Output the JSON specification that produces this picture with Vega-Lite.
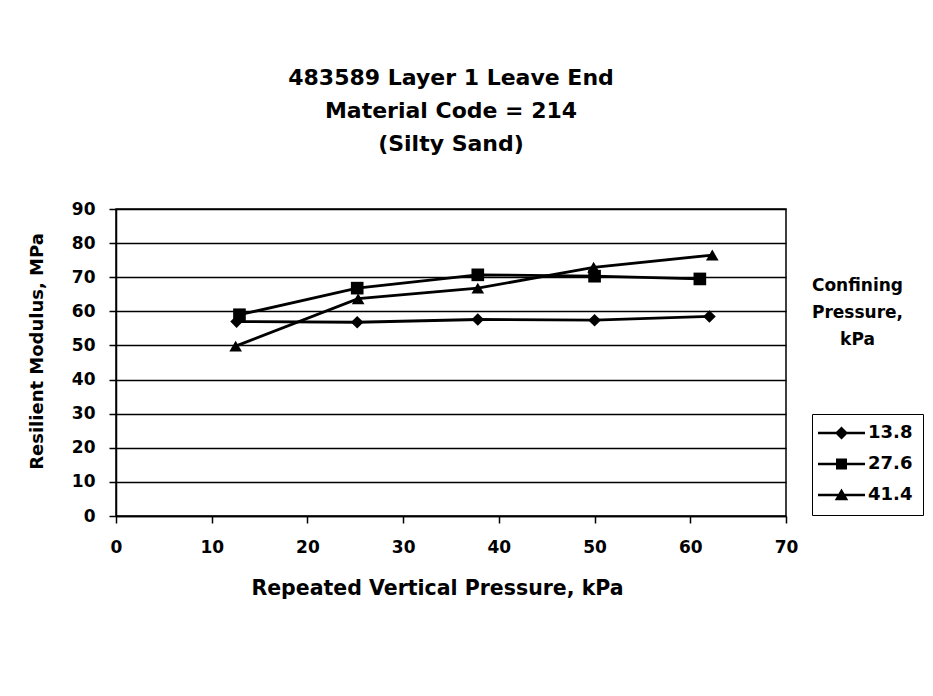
{
  "$schema": "https://vega.github.io/schema/vega-lite/v6.json",
  "width": 670,
  "height": 307,
  "autosize": "none",
  "padding": {"left": 116, "top": 209, "right": 147, "bottom": 180},
  "background": "white",
  "title": {
    "text": ["483589 Layer 1 Leave End", "Material Code = 214", "(Silty Sand)"],
    "font": "DejaVu Sans",
    "fontSize": 22,
    "fontWeight": "bold",
    "color": "black",
    "lineHeight": 33,
    "offset": 44,
    "anchor": "middle"
  },
  "data": {
    "values": [
      {"cp": "13.8", "p": 12.6, "mr": 57.0},
      {"cp": "13.8", "p": 25.2, "mr": 56.8},
      {"cp": "13.8", "p": 37.8, "mr": 57.6},
      {"cp": "13.8", "p": 50.0, "mr": 57.4},
      {"cp": "13.8", "p": 62.0, "mr": 58.5},
      {"cp": "27.6", "p": 12.9, "mr": 59.0},
      {"cp": "27.6", "p": 25.2, "mr": 66.8},
      {"cp": "27.6", "p": 37.8, "mr": 70.7},
      {"cp": "27.6", "p": 50.0, "mr": 70.3},
      {"cp": "27.6", "p": 61.0, "mr": 69.5},
      {"cp": "41.4", "p": 12.5, "mr": 49.8},
      {"cp": "41.4", "p": 25.3, "mr": 63.7},
      {"cp": "41.4", "p": 37.8, "mr": 66.8},
      {"cp": "41.4", "p": 49.9, "mr": 72.9},
      {"cp": "41.4", "p": 62.3, "mr": 76.5}
    ]
  },
  "layer": [
    {
      "mark": {"type": "line", "color": "black", "strokeWidth": 2.8},
      "encoding": {
        "x": {
          "field": "p", "type": "quantitative",
          "scale": {"domain": [0, 70], "nice": false},
          "axis": {
            "values": [0, 10, 20, 30, 40, 50, 60, 70],
            "title": "Repeated Vertical Pressure, kPa",
            "titleFontSize": 20.5,
            "titlePadding": 23,
            "titleX": 321,
            "labelFontSize": 17,
            "labelPadding": 16,
            "tickSize": 7,
            "tickWidth": 1.5,
            "domainWidth": 1.5,
            "grid": false,
            "labelFlush": false,
            "labelOverlap": false
          }
        },
        "y": {
          "field": "mr", "type": "quantitative",
          "scale": {"domain": [0, 90], "nice": false},
          "axis": {
            "values": [0, 10, 20, 30, 40, 50, 60, 70, 80, 90],
            "title": "Resilient Modulus, MPa",
            "titleFontSize": 18,
            "titlePadding": 25,
            "titleY": 142,
            "labelFontSize": 17,
            "labelPadding": 14,
            "tickSize": 7,
            "tickWidth": 1.5,
            "domainWidth": 1.5,
            "grid": true,
            "gridWidth": 1.5,
            "labelFlush": false,
            "labelOverlap": false
          }
        },
        "detail": {"field": "cp", "type": "nominal"}
      }
    },
    {
      "mark": {"type": "point", "filled": true, "color": "black", "size": 160, "opacity": 1},
      "encoding": {
        "x": {"field": "p", "type": "quantitative"},
        "y": {
          "field": "mr", "type": "quantitative",
          "axis": {
            "orient": "right",
            "title": ["Confining", "Pressure,", "kPa"],
            "titleAngle": 0,
            "titleAlign": "center",
            "titleBaseline": "top",
            "titleFontSize": 17,
            "titleLineHeight": 27,
            "titleX": 71,
            "titleY": 68,
            "domain": false,
            "ticks": false,
            "labels": false,
            "grid": false
          }
        },
        "shape": {
          "field": "cp", "type": "nominal",
          "scale": {"domain": ["13.8", "27.6", "41.4"], "range": ["diamond", "square", "triangle-up"]},
          "legend": null
        }
      }
    },
    {
      "mark": {"type": "point", "filled": true, "color": "black", "size": 100, "opacity": 0},
      "encoding": {
        "x": {"field": "p", "type": "quantitative"},
        "y": {"field": "mr", "type": "quantitative", "axis": null},
        "shape": {
          "field": "cp", "type": "nominal",
          "scale": {
            "domain": ["13.8", "27.6", "41.4"],
            "range": [
              "M-4.7,-0.25H4.7V0.25H-4.7ZM-1.3,0L0,-1.3L1.3,0L0,1.3Z",
              "M-4.7,-0.25H4.7V0.25H-4.7ZM-1.1,-1.1H1.1V1.1H-1.1Z",
              "M-4.7,-0.25H4.7V0.25H-4.7ZM0,-1.3L1.35,1.05H-1.35Z"
            ]
          },
          "legend": {
            "title": null,
            "orient": "none",
            "legendX": 696,
            "legendY": 205,
            "padding": 10,
            "strokeColor": "black",
            "rowPadding": 10,
            "symbolSize": 100,
            "symbolStrokeWidth": 2,
            "symbolFillColor": "black",
            "symbolOpacity": 1,
            "symbolOffset": 10.5,
            "labelOffset": 17.5,
            "labelFont": "DejaVu Sans",
            "labelFontSize": 18,
            "labelFontWeight": "bold",
            "labelColor": "black"
          }
        }
      }
    }
  ],
  "resolve": {"axis": {"y": "independent"}, "scale": {"shape": "independent"}},
  "config": {
    "view": {"stroke": "black", "strokeWidth": 1.5},
    "axis": {
      "labelFont": "DejaVu Sans",
      "labelFontWeight": "bold",
      "labelColor": "black",
      "titleFont": "DejaVu Sans",
      "titleFontWeight": "bold",
      "titleColor": "black",
      "domainColor": "black",
      "tickColor": "black",
      "gridColor": "black",
      "gridOpacity": 1
    }
  }
}
